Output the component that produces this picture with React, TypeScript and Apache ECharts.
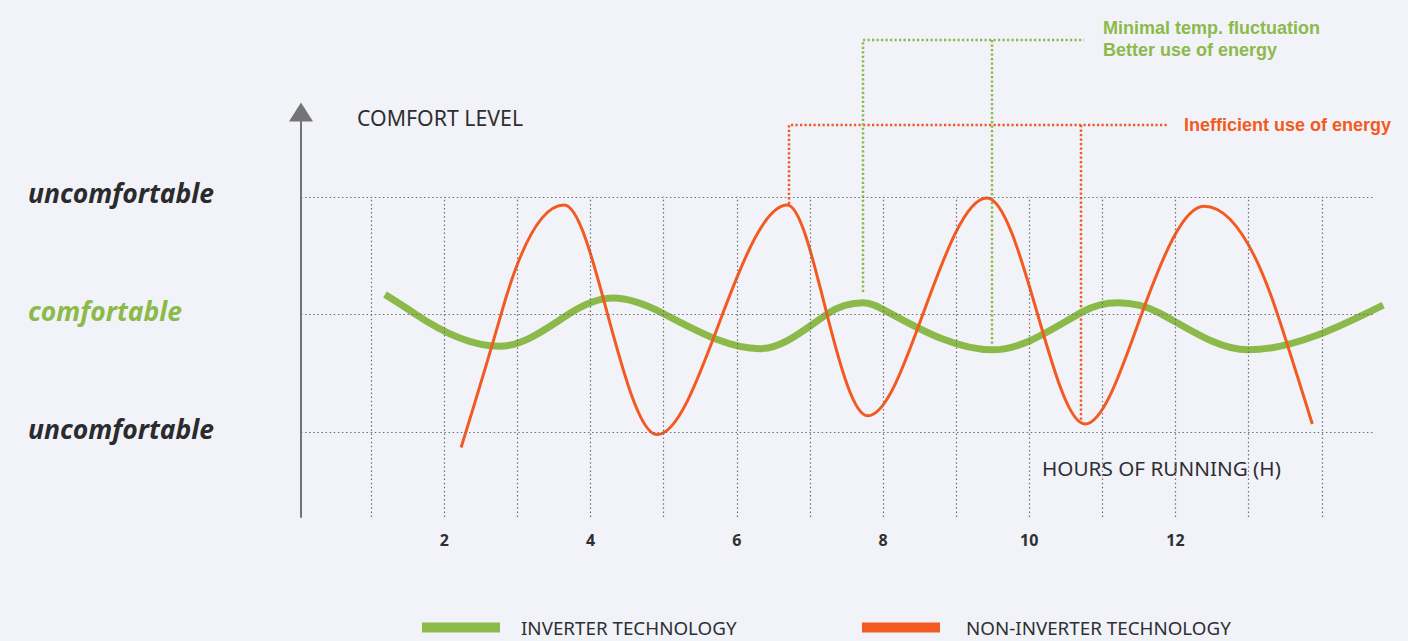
import React, { useEffect, useRef } from "react";
import * as echarts from "echarts";

// ---- data ----
const seriesNames = ["INVERTER TECHNOLOGY", "NON-INVERTER TECHNOLOGY"];

// [hours, comfort level]  (0 = comfortable, ±1 = uncomfortable)
// peaks, troughs and the points where each curve crosses the "comfortable" line
const inverterData: [number, number][] = [
  [1.19, 0.17], [1.59, 0.01], [2.76, -0.27], [3.72, 0.01], [4.31, 0.14],
  [4.99, 0.01], [6.32, -0.29], [7.25, 0.01], [7.73, 0.1], [8.1, 0.01],
  [9.5, -0.3], [10.72, 0.02], [11.21, 0.1], [11.79, 0.01], [12.99, -0.3],
  [14.84, 0.08],
];

const nonInverterData: [number, number][] = [
  [2.23, -1.13], [2.78, 0.01], [3.64, 0.93], [4.23, 0.01], [4.91, -1.02],
  [5.81, 0.01], [6.69, 0.93], [7.23, 0.01], [7.79, -0.86], [8.55, 0.01],
  [9.42, 0.99], [10.11, 0.01], [10.76, -0.93], [11.54, 0.01], [12.39, 0.92],
  [13.39, 0.01], [13.87, -0.93],
];

const xTickLabels = [2, 4, 6, 8, 10, 12];
const gridHours = [1, 2, 3, 4, 5, 6, 7, 8, 9, 10, 11, 12, 13, 14];
const levelValues = [1, 0, -1];
const levelLabels = ["uncomfortable", "comfortable", "uncomfortable"];
const levelColors = ["#2b2b2e", "#8cba4a", "#2b2b2e"];

const axisTitleY = "COMFORT LEVEL";
const axisTitleX = "HOURS OF RUNNING (H)";
const greenNotes = ["Minimal temp. fluctuation", "Better use of energy"];
const orangeNote = "Inefficient use of energy";

// ---- styling ----
const GREEN = "#8cba4a";
const ORANGE = "#f35a22";
const TEXT = "#2f2f33";
const BG = "#f1f3f8";
const FONT = "'Noto Sans', 'Open Sans', sans-serif";
const NOTE_FONT = "'Liberation Sans', Arial, sans-serif";

const X_MIN = 0;
const X_MAX = 14.9;
const Y_MIN = -1.72;
const Y_MAX = 1.72;
const GRID_X_START = 0.04;
const GRID_X_END = 14.7;
const GRID_Y_TOP = 1;

const gridLineStyle = { type: [1.5, 2.6], color: "#707070", width: 1.2 };
const noteDash = { lineWidth: 2.5, lineDash: [2.2, 2.3], fill: null };

// Hermite curve through pixel points: flat at peaks/troughs, sine-like slope elsewhere
function wavePath(pts: number[][]): string {
  const n = pts.length;
  const x = pts.map((p) => p[0]);
  const y = pts.map((p) => p[1]);
  const m = new Array(n).fill(0);
  for (let i = 1; i < n - 1; i++) {
    const isExt =
      (y[i] - y[i - 1]) * (y[i + 1] - y[i]) <= 0;
    m[i] = isExt ? 0 : (1.5 * (y[i + 1] - y[i - 1])) / (x[i + 1] - x[i - 1]);
  }
  const s0 = (y[1] - y[0]) / (x[1] - x[0]);
  m[0] = (3 * s0 - m[1]) / 2;
  const sn = (y[n - 1] - y[n - 2]) / (x[n - 1] - x[n - 2]);
  m[n - 1] = (3 * sn - m[n - 2]) / 2;
  let d = `M${x[0]},${y[0]}`;
  for (let i = 0; i < n - 1; i++) {
    const dx = (x[i + 1] - x[i]) / 3;
    d += ` C${x[i] + dx},${y[i] + m[i] * dx} ${x[i + 1] - dx},${y[i + 1] - m[i + 1] * dx} ${x[i + 1]},${y[i + 1]}`;
  }
  return d;
}

function curveSeries(name: string, data: [number, number][], color: string, width: number, z: number) {
  return {
    type: "custom",
    name,
    z,
    color,
    itemStyle: { color },
    data: [data[0]],
    silent: true,
    renderItem: (params: any, api: any) => {
      if (params.dataIndex !== 0) return null;
      const pts = data.map((d) => api.coord(d));
      return {
        type: "path",
        shape: { pathData: wavePath(pts) },
        style: { stroke: color, lineWidth: width, fill: "none", lineCap: "butt" },
      };
    },
  };
}

function buildOption(): any {
  const markData: any[] = [];
  levelValues.forEach((v) => {
    markData.push([{ coord: [GRID_X_START, v] }, { coord: [GRID_X_END, v] }]);
  });
  gridHours.forEach((h) => {
    markData.push([{ coord: [h, Y_MIN] }, { coord: [h, GRID_Y_TOP] }]);
  });

  const legendBase = {
    icon: "rect",
    itemWidth: 78,
    itemHeight: 10,
    padding: 0,
    top: 618,
    selectedMode: false,
  };
  const legendText = (padLeft: number) => ({
    fontFamily: FONT,
    fontSize: 18.8,
    color: TEXT,
    padding: [0, 0, 0, padLeft],
  });

  return {
    animation: false,
    backgroundColor: BG,
    grid: { left: 298, right: 20.4, top: 112, bottom: 124 },
    legend: [
      { ...legendBase, left: 422, data: [seriesNames[0]], textStyle: legendText(16) },
      { ...legendBase, left: 862, data: [seriesNames[1]], textStyle: legendText(21) },
    ],
    xAxis: {
      type: "value",
      min: X_MIN,
      max: X_MAX,
      interval: 2,
      axisLine: { show: false, onZero: false },
      axisTick: { show: false },
      splitLine: { show: false },
      axisLabel: {
        showMaxLabel: false,
        showMinLabel: false,
        margin: 15,
        fontSize: 16,
        fontWeight: "bold",
        fontFamily: FONT,
        color: TEXT,
        formatter: (v: number) => (xTickLabels.includes(v) ? String(v) : ""),
      },
    },
    yAxis: {
      type: "value",
      min: Y_MIN,
      max: Y_MAX,
      offset: -3,
      axisLine: {
        show: true,
        onZero: false,
        symbol: ["none", "triangle"],
        symbolSize: [24, 19],
        lineStyle: { color: "#747474", width: 2 },
      },
      axisTick: { show: false },
      splitLine: { show: false },
      axisLabel: {
        customValues: levelValues,
        align: "left",
        verticalAlign: "bottom",
        lineHeight: 7,
        margin: 273,
        fontSize: 26.5,
        fontWeight: "bold",
        fontStyle: "italic",
        fontFamily: FONT,
        formatter: (v: number) => {
          const i = levelValues.indexOf(v);
          return i >= 0 ? levelLabels[i] : "";
        },
        color: (v: any) => {
          const i = levelValues.indexOf(Number(v));
          return i >= 0 ? levelColors[i] : TEXT;
        },
      },
    },
    series: [
      {
        type: "line",
        name: "grid",
        data: [],
        z: 1,
        silent: true,
        markLine: {
          silent: true,
          symbol: ["none", "none"],
          label: { show: false },
          lineStyle: gridLineStyle,
          emphasis: { disabled: true },
          data: markData,
        },
      },
      curveSeries(seriesNames[0], inverterData, GREEN, 7, 3),
      curveSeries(seriesNames[1], nonInverterData, ORANGE, 3, 4),
    ],
    graphic: [
      {
        type: "text",
        x: 357,
        y: 117,
        style: {
          text: axisTitleY,
          fill: TEXT,
          fontSize: 21.3,
          fontFamily: FONT,
          verticalAlign: "middle",
        },
      },
      {
        type: "text",
        x: 1042,
        y: 468,
        style: {
          text: axisTitleX,
          fill: TEXT,
          fontSize: 20.7,
          fontFamily: FONT,
          verticalAlign: "middle",
        },
      },
      // orange annotation bracket
      {
        type: "polyline",
        shape: { points: [[789, 204], [789, 125], [1169, 125]] },
        style: { ...noteDash, stroke: ORANGE },
      },
      {
        type: "line",
        shape: { x1: 1081, y1: 125, x2: 1081, y2: 423 },
        style: { ...noteDash, stroke: ORANGE },
      },
      // green annotation bracket
      {
        type: "polyline",
        shape: { points: [[863, 292], [863, 40], [1084, 40]] },
        style: { ...noteDash, stroke: GREEN },
      },
      {
        type: "line",
        shape: { x1: 992, y1: 40, x2: 992, y2: 346 },
        style: { ...noteDash, stroke: GREEN },
      },
      {
        type: "text",
        x: 1103,
        y: 28,
        style: {
          text: greenNotes[0],
          fill: GREEN,
          fontSize: 18,
          fontWeight: "bold",
          fontFamily: NOTE_FONT,
          verticalAlign: "middle",
        },
      },
      {
        type: "text",
        x: 1103,
        y: 50,
        style: {
          text: greenNotes[1],
          fill: GREEN,
          fontSize: 18,
          fontWeight: "bold",
          fontFamily: NOTE_FONT,
          verticalAlign: "middle",
        },
      },
      {
        type: "text",
        x: 1184,
        y: 125,
        style: {
          text: orangeNote,
          fill: ORANGE,
          fontSize: 18,
          fontWeight: "bold",
          fontFamily: NOTE_FONT,
          verticalAlign: "middle",
        },
      },
    ],
  };
}

export default function App() {
  const ref = useRef<HTMLDivElement>(null);
  useEffect(() => {
    if (!ref.current) return;
    const chart = echarts.init(ref.current, null, { renderer: "svg" });
    chart.setOption(buildOption());
    return () => chart.dispose();
  }, []);
  return (
    <div
      ref={ref}
      style={{ position: "fixed", left: 0, top: 0, width: 1408, height: 641, background: BG }}
    />
  );
}
